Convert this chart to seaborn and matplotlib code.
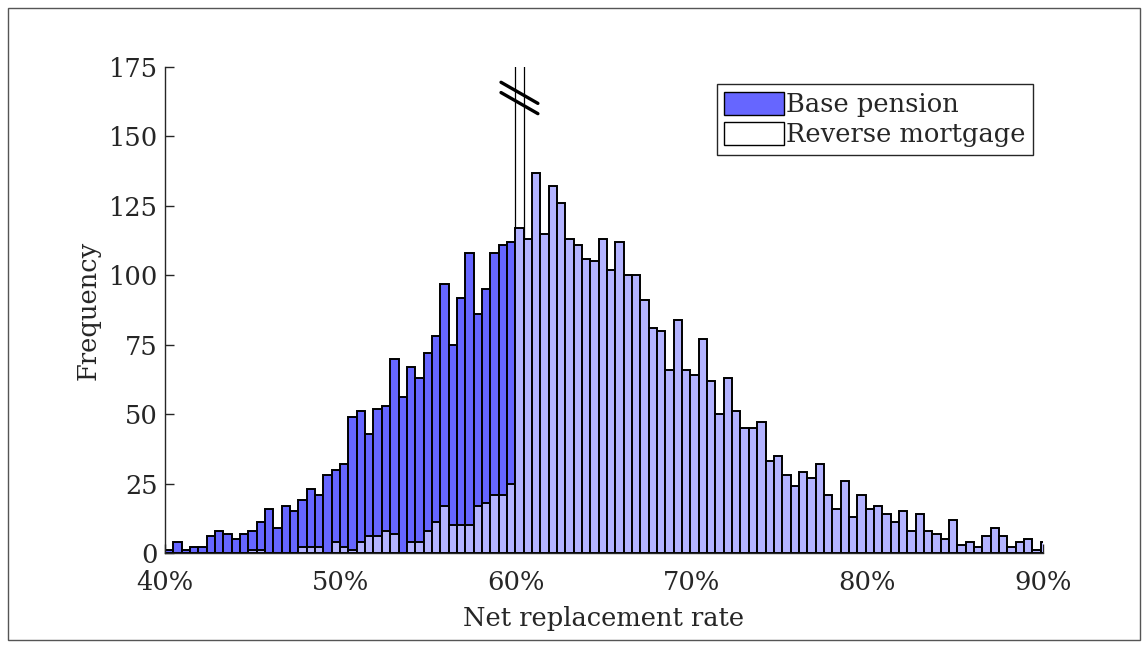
import numpy as np
import pandas as pd
import matplotlib
matplotlib.use("Agg")
import matplotlib.pyplot as plt
from matplotlib.patches import Patch, Rectangle
from matplotlib.lines import Line2D
import seaborn as sns

# bin layout (percent): 106 bins of 0.475 starting at 40%
bin_start = 40.0
bin_width = 0.475
n_bins = 106

# counts, one per bin
base_pension = [1, 4, 1, 2, 2, 6, 8, 7, 5, 7, 8, 11, 16, 9, 17, 15, 19, 23, 21, 28,
                30, 32, 49, 51, 43, 52, 53, 70, 56, 67, 63, 72, 78, 97, 75, 92, 108, 86, 95, 108,
                111, 112] + [0] * 64

reverse_mortgage = [0, 0, 0, 0, 0, 0, 0, 0, 0, 0, 1, 1, 0, 0, 0, 0, 2, 2, 2, 0,
                    4, 2, 1, 4, 6, 6, 8, 7, 0, 4, 4, 8, 11, 17, 10, 10, 10, 17, 18, 21,
                    21, 25, 117, 113, 137, 115, 132, 126, 113, 111, 106, 105, 113, 102, 112, 100, 100, 91, 81, 80,
                    66, 84, 66, 64, 77, 62, 50, 63, 51, 45, 45, 47, 33, 35, 28, 24, 29, 27, 32, 21,
                    16, 26, 13, 21, 16, 17, 14, 11, 15, 8, 14, 8, 7, 5, 12, 3, 4, 2, 6, 9,
                    6, 2, 4, 5, 1, 4]

# bin 42 runs off the scale (axis break drawn at the top)
spike_bin = 42
spike_count = 400

edges = [bin_start + bin_width * i for i in range(n_bins + 1)]
centers = [(edges[i] + edges[i + 1]) / 2 for i in range(n_bins)]
df = pd.DataFrame({"rate": centers, "base": base_pension, "rm": reverse_mortgage})
df["spike"] = [spike_count if i == spike_bin else 0 for i in range(n_bins)]

blue = "#6666ff"
light = "#b3b3ff"
ink = "#262626"

sns.set_style("ticks")
plt.rcParams["font.family"] = ["DejaVu Serif"]
plt.rcParams["text.color"] = ink
plt.rcParams["axes.labelcolor"] = ink
plt.rcParams["xtick.color"] = ink
plt.rcParams["ytick.color"] = ink

fig = plt.figure(figsize=(11.48, 6.48), dpi=100)
ax = fig.add_axes([0.1437, 0.1466, 0.7648, 0.75])

# off-scale bar, outline only
sns.histplot(data=df, x="rate", weights="spike", bins=edges, ax=ax,
             color="white", alpha=1, edgecolor="black", linewidth=0.9)
sns.histplot(data=df, x="rate", weights="base", bins=edges, ax=ax,
             color=blue, alpha=1, edgecolor="black", linewidth=1.4)
sns.histplot(data=df, x="rate", weights="rm", bins=edges, ax=ax,
             color=light, alpha=1, edgecolor="black", linewidth=1.4)

ax.set_xlim(40, 90)
ax.set_ylim(0, 175)
ax.set_xticks(np.arange(40, 91, 10))
ax.set_xticklabels([f"{v}%" for v in range(40, 91, 10)])
ax.set_yticks(np.arange(0, 176, 25))
ax.tick_params(axis="both", direction="in", length=6.5, width=1, labelsize=18.5)
ax.tick_params(axis="x", pad=12)
ax.tick_params(axis="y", pad=5)
ax.set_xlabel("Net replacement rate", fontsize=18.5, labelpad=8)
ax.set_ylabel("Frequency", fontsize=18.5, labelpad=6)
sns.despine(ax=ax)
for s in ["left", "bottom"]:
    ax.spines[s].set_color(ink)
    ax.spines[s].set_linewidth(1)

# axis-break marks on the truncated bar
xc = centers[spike_bin]
for yc in (165.7, 162.0):
    ax.add_line(Line2D([xc - 1.05, xc + 1.05], [yc + 3.8, yc - 3.8],
                       color="black", linewidth=2.4, clip_on=False, zorder=5))

handles = [Patch(facecolor=blue, edgecolor="black", linewidth=1),
           Patch(facecolor="white", edgecolor="black", linewidth=1)]
leg = ax.legend(handles, ["Base pension", "Reverse mortgage"], loc="upper right",
                bbox_to_anchor=(0.989, 0.965), borderaxespad=0, fontsize=18.5,
                fancybox=False, framealpha=1, edgecolor=ink,
                handlelength=2.3, handleheight=1.0, handletextpad=0.1,
                labelspacing=0.2, borderpad=0.3)
leg.get_frame().set_linewidth(1)

# outer figure border
fig.add_artist(Rectangle((0.007, 0.012), 0.986, 0.976, transform=fig.transFigure,
                         fill=False, edgecolor="#555555", linewidth=1))

fig.savefig("out.png", dpi=100)
